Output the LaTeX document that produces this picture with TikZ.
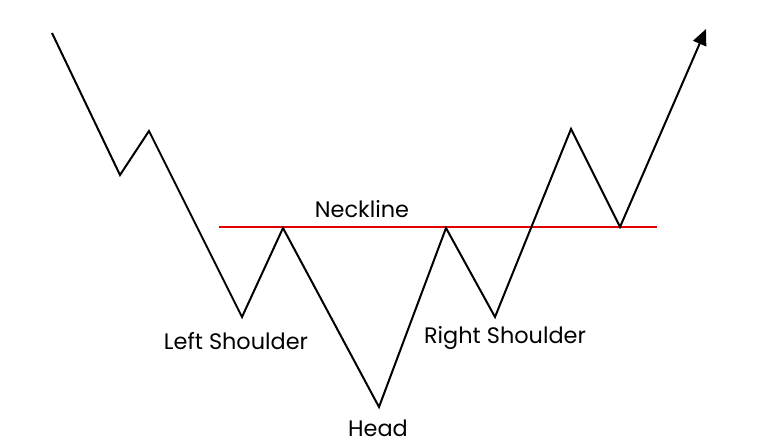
\documentclass[tikz,border=0pt]{standalone}
\usepackage{fontspec}
\setmainfont{Poppins}
\usepackage{tikz}
\usetikzlibrary{arrows}
\usetikzlibrary{arrows.meta}

\begin{document}
\begin{tikzpicture}[x=0.5pt,y=-0.5pt]
\useasboundingbox (0,0) rectangle (775,448);
%vertex
\coordinate (p0) at (52,33); \coordinate (p1) at (120,175); \coordinate (p2) at (149,131);
\coordinate (ls) at (242,317); \coordinate (n1) at (283,228); \coordinate (hd) at (379,407);
\coordinate (n2) at (446,228); \coordinate (rs) at (495,317); \coordinate (p3) at (571,129);
\coordinate (p4) at (620,227); \coordinate (p5) at (706,29);
\coordinate (nl) at (219,227); \coordinate (nr) at (657,227);
%neckline
\draw[line width=1pt, red!90!black] (nl)--(nr);
%edge
\draw[line width=1pt, line join=miter, -{Triangle[length=8pt,width=7pt]}] (p0)--(p1)--(p2)--(ls)--(n1)--(hd)--(n2)--(rs)--(p3)--(p4)--(p5);
%labels
\node[font=\fontsize{11.2}{13}\selectfont] (tn) at (362,209) {Neckline};
\node[font=\fontsize{11.2}{13}\selectfont] (tl) at (236,341) {Left Shoulder};
\node[font=\fontsize{11.2}{13}\selectfont] (th) at (378,428) {Head};
\node[font=\fontsize{11.2}{13}\selectfont] (tr) at (505,338) {Right Shoulder};
\end{tikzpicture}
\end{document}
